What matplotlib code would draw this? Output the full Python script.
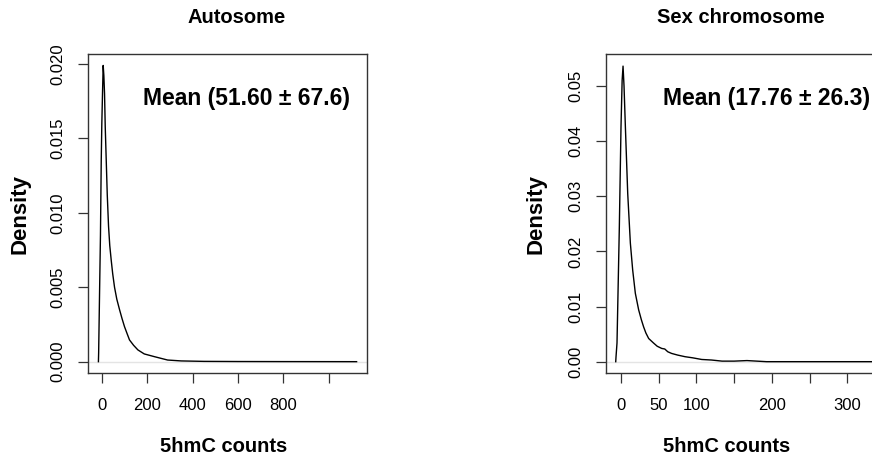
import matplotlib
matplotlib.use("Agg")
import matplotlib.pyplot as plt

plt.rcParams["font.family"] = ["Liberation Sans", "DejaVu Sans"]

# Autosome density curve
auto_x = [-15, -14, -10, -6, -2.6, 0, 3, 6, 9, 12, 15, 19.4, 24, 29.6, 35, 41.5,
          48, 56, 66, 78, 89, 100, 111, 122, 140, 159, 187, 231, 290, 350, 450,
          600, 800, 1000, 1123]
auto_y = [0.0, 0.0006, 0.0046, 0.0085, 0.0135, 0.0160, 0.0180, 0.0199, 0.0192,
          0.0180, 0.0158, 0.01355, 0.0112, 0.0091, 0.0078, 0.0068, 0.0059,
          0.0050, 0.0042, 0.0035, 0.0029, 0.00235, 0.0019, 0.00146, 0.0011,
          0.00079, 0.00052, 0.00034, 0.00011, 0.00005, 0.00002, 0.00001,
          0.000005, 0.000002, 0.0]

# Sex chromosome density curve
sex_x = [-7, -6.6, -5.3, -2.2, 0, 1.5, 2.7, 4, 5.8, 8.9, 12.4, 15.5, 19, 23.4,
         27, 30, 33, 36.7, 43, 48, 54, 58, 62, 67, 75, 85, 95, 107, 120, 134,
         150, 167, 180, 193, 230, 280, 336]
sex_y = [0.0, 0.0009, 0.0034, 0.0245, 0.0426, 0.0510, 0.0536, 0.0500, 0.0426,
         0.0305, 0.0215, 0.0166, 0.0124, 0.0094, 0.0076, 0.0063, 0.0052, 0.0042,
         0.0034, 0.0028, 0.0024, 0.0023, 0.0018, 0.0015, 0.0012, 0.0009, 0.0007,
         0.0004, 0.0003, 0.0001, 0.0001, 0.0002, 0.0001, 0.0, 0.0, 0.0, 0.0]

auto_xticks = [0, 200, 400, 600, 800, 1000]
auto_xlabels = ["0", "200", "400", "600", "800", ""]
auto_yticks = [0.0, 0.005, 0.010, 0.015, 0.020]
auto_ylabels = ["0.000", "0.005", "0.010", "0.015", "0.020"]

sex_xticks = [0, 50, 100, 150, 200, 250, 300]
sex_xlabels = ["0", "50", "100", "", "200", "", "300"]
sex_yticks = [0.0, 0.01, 0.02, 0.03, 0.04, 0.05]
sex_ylabels = ["0.00", "0.01", "0.02", "0.03", "0.04", "0.05"]

fig = plt.figure(figsize=(8.72, 4.59), dpi=100)

panels = [
    dict(rect=[0.1009, 0.1874, 0.3200, 0.695], x=auto_x, y=auto_y,
         xlim=(-61, 1169), ylim=(-0.00076, 0.02067),
         xt=auto_xticks, xl=auto_xlabels, yt=auto_yticks, yl=auto_ylabels,
         title="Autosome", title_x=0.534, xlab_x=0.487, dens_x=-0.244,
         mean="Mean (51.60 \u00b1 67.6)", mean_x=0.568),
    dict(rect=[0.6946, 0.1874, 0.3203, 0.695], x=sex_x, y=sex_y,
         xlim=(-20.3, 350), ylim=(-0.00205, 0.0558),
         xt=sex_xticks, xl=sex_xlabels, yt=sex_yticks, yl=sex_ylabels,
         title="Sex chromosome", title_x=0.485, xlab_x=0.434, dens_x=-0.250,
         mean="Mean (17.76 \u00b1 26.3)", mean_x=0.575),
]

for p in panels:
    ax = fig.add_axes(p["rect"])
    ax.axhline(0, color="#e4e4e4", lw=1.0, zorder=0)
    ax.plot(p["x"], p["y"], color="black", lw=1.0)
    ax.set_xlim(*p["xlim"])
    ax.set_ylim(*p["ylim"])

    ax.set_xticks(p["xt"])
    ax.set_xticklabels(p["xl"], fontsize=12)
    ax.set_yticks(p["yt"])
    ax.set_yticklabels(p["yl"], fontsize=12, rotation=90, va="center")
    ax.tick_params(direction="out", length=7, width=0.9, color="#333333")
    ax.tick_params(axis="x", pad=11)
    ax.tick_params(axis="y", pad=9)
    for s in ax.spines.values():
        s.set_linewidth(1.0)
        s.set_color("#333333")

    ax.text(p["title_x"], 1.113, p["title"], transform=ax.transAxes,
            ha="center", va="center", fontsize=14.5, fontweight="bold")
    ax.text(p["xlab_x"], -0.232, "5hmC counts", transform=ax.transAxes,
            ha="center", va="center", fontsize=14.5, fontweight="bold")
    ax.text(p["dens_x"], 0.498, "Density", transform=ax.transAxes, rotation=90,
            ha="center", va="center", fontsize=16, fontweight="bold")
    ax.text(p["mean_x"], 0.862, p["mean"], transform=ax.transAxes,
            ha="center", va="center", fontsize=16.5, fontweight="bold")

fig.savefig("out.png", dpi=100)
